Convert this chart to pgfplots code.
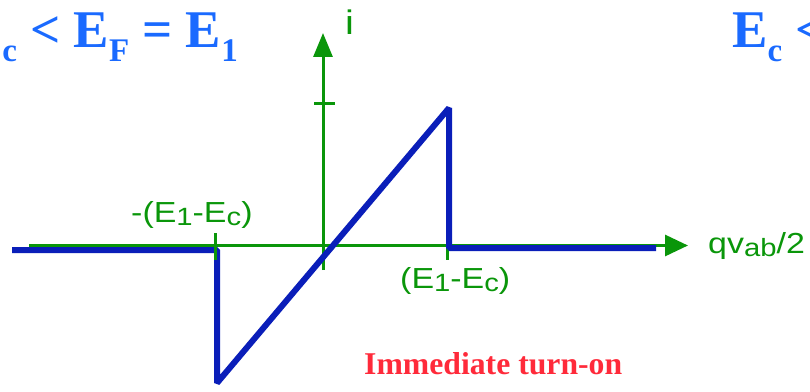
\documentclass[border=0pt]{standalone}
\usepackage{fontspec}
\setmainfont{Liberation Serif}
\newfontfamily\gfont[FakeStretch=1.17]{Liberation Sans}
\usepackage{pgfplots}
\pgfplotsset{compat=1.18}
\usetikzlibrary{arrows.meta}
\definecolor{tblue}{HTML}{1A6AFF}
\definecolor{cblue}{HTML}{0A1EB9}
\definecolor{agreen}{HTML}{0A960A}
\definecolor{tred}{HTML}{FF2A3A}
\newcommand{\bsub}[1]{\raisebox{-14pt}{\fontsize{33}{33}\selectfont #1}}
\newcommand{\gsub}[1]{\raisebox{-3pt}{\fontsize{25}{25}\selectfont #1}}
\begin{document}
\begin{tikzpicture}
\begin{axis}[x=1pt, y=1pt, xmin=0, xmax=810, ymin=0, ymax=391,
  hide axis, enlargelimits=false, anchor=south west, at={(0,0)}]
% green axes
\addplot[agreen, line width=3pt, -{Triangle[length=23pt,width=21pt]}] coordinates {(29,145.5) (688,145.5)};
\addplot[agreen, line width=3pt, -{Triangle[length=24pt,width=19pt]}] coordinates {(323,121) (323,358)};
\addplot[agreen, line width=3pt] coordinates {(314,287) (335,287)};
\addplot[agreen, line width=3pt] coordinates {(447,158) (447,131)};
% blue curve
\addplot[cblue, line width=6pt, line join=bevel] coordinates {(12,141) (217,141) (217,8) (449,283) (449,143) (656,143)};
\addplot[agreen, line width=3pt] coordinates {(215,158) (215,131)};
% texts
\node[anchor=base east, inner sep=0, text=tblue, font=\bfseries\fontsize{53}{60}\selectfont] at (axis cs:238,343) {E\bsub{c} < E\bsub{F} = E\bsub{1}};
\node[anchor=base west, inner sep=0, text=tblue, font=\bfseries\fontsize{53}{60}\selectfont] at (axis cs:732,343) {E\bsub{c} <};
\node[anchor=base west, inner sep=0, text=tred, font=\bfseries\fontsize{31.7}{36}\selectfont] at (axis cs:364,17) {Immediate turn-on};
\node[anchor=base west, inner sep=0, text=agreen, font=\gfont\fontsize{34}{40}\selectfont] at (axis cs:345,356) {i};
\node[anchor=base west, inner sep=0, text=agreen, font=\gfont\fontsize{29}{32}\selectfont] at (axis cs:131,169) {-(E\gsub{1}-E\gsub{c})};
\node[anchor=base west, inner sep=0, text=agreen, font=\gfont\fontsize{29}{32}\selectfont] at (axis cs:400,103) {(E\gsub{1}-E\gsub{c})};
\node[anchor=base west, inner sep=0, text=agreen, font=\gfont\fontsize{29}{32}\selectfont] at (axis cs:708,138) {qv\gsub{ab}/2};
\end{axis}
\pgfresetboundingbox
\path[use as bounding box] (0,0) rectangle (810pt,391pt);
\end{tikzpicture}
\end{document}
